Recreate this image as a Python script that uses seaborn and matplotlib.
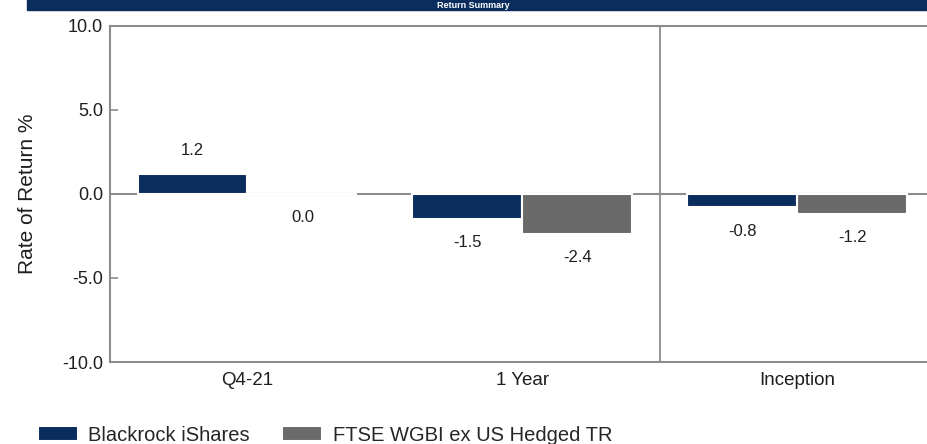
import matplotlib
matplotlib.use("Agg")
import matplotlib.pyplot as plt
import seaborn as sns
import pandas as pd
from matplotlib.patches import Rectangle
from matplotlib import font_manager

# Returns by period for the fund and its benchmark
periods = ["Q4-21", "1 Year", "Inception"]
series_names = ["Blackrock iShares", "FTSE WGBI ex US Hedged TR"]
blackrock = [1.2, -1.5, -0.8]
ftse = [0.0, -2.4, -1.2]
y_ticks = [10.0, 5.0, 0.0, -5.0, -10.0]
title = "Return Summary"

NAVY = "#0a2d5e"
GRAY = "#6a6a6a"
LINE = "#8c8c8c"
TEXT = "#1e1e1e"

sns.set_theme(style="white")
available = {f.name for f in font_manager.fontManager.ttflist}
family = [f for f in ["Liberation Sans", "DejaVu Sans"] if f in available]
plt.rcParams["font.family"] = family

df = pd.DataFrame({
    "Period": periods * 2,
    "Series": [series_names[0]] * len(periods) + [series_names[1]] * len(periods),
    "Return": blackrock + ftse,
})

fig = plt.figure(figsize=(9.28, 4.44), dpi=100)
ax = fig.add_axes([110 / 928, 1 - 362 / 444, 825 / 928, 336 / 444])

ax.axhline(0, color=LINE, lw=1.5, zorder=0.5)
sns.barplot(data=df, x="Period", y="Return", hue="Series", order=periods,
            hue_order=series_names, palette=[NAVY, GRAY], width=0.8,
            edgecolor="white", linewidth=1.5, saturation=1, errorbar=None,
            ax=ax, zorder=2)
ax.axvline(1.5, color=LINE, lw=1.3, zorder=0.5)

# value labels above positive bars, below zero / negative ones
for container, vals in zip(ax.containers, [blackrock, ftse]):
    for bar, v in zip(container, vals):
        x = bar.get_x() + bar.get_width() / 2
        ax.annotate(f"{v:.1f}", (x, v), xytext=(0, 17 if v > 0 else -17),
                    textcoords="offset points", ha="center", va="center",
                    fontsize=12, color=TEXT)

ax.set_xlim(-0.5, 2.5)
ax.set_ylim(-10, 10)
ax.set_yticks(y_ticks)
ax.set_yticklabels([f"{t:.1f}" for t in y_ticks])
ax.tick_params(axis="y", direction="in", length=6, width=1.2, color=LINE,
               labelsize=13, labelcolor=TEXT, pad=5, left=True)
ax.tick_params(axis="x", length=0, labelsize=13.5, labelcolor=TEXT, pad=7)
ax.set_xlabel("")
ax.set_ylabel("Rate of Return %", fontsize=15, color=TEXT)
ax.yaxis.set_label_coords(-0.088, 0.5)

for side in ["left", "top", "bottom"]:
    ax.spines[side].set_color(LINE)
    ax.spines[side].set_linewidth(1.5)
ax.spines["right"].set_visible(False)

handles, labels = ax.get_legend_handles_labels()
ax.get_legend().remove()
fig.legend(handles, labels, loc="center left", bbox_to_anchor=(38 / 928, 1 - 435 / 444),
           ncol=2, frameon=False, fontsize=14.5, handlelength=2.0, handleheight=0.75,
           columnspacing=1.6, handletextpad=0.5, borderaxespad=0, borderpad=0)

# header banner
fig.patches.append(Rectangle((27 / 928, 1 - 10 / 444), 1 - 27 / 928, 10 / 444,
                             transform=fig.transFigure, color=NAVY, zorder=0))
fig.text(0.51, 1 - 5 / 444, title, ha="center", va="center", color="white",
         fontsize=6.5, fontweight="bold")

fig.savefig("out.png", dpi=100)
